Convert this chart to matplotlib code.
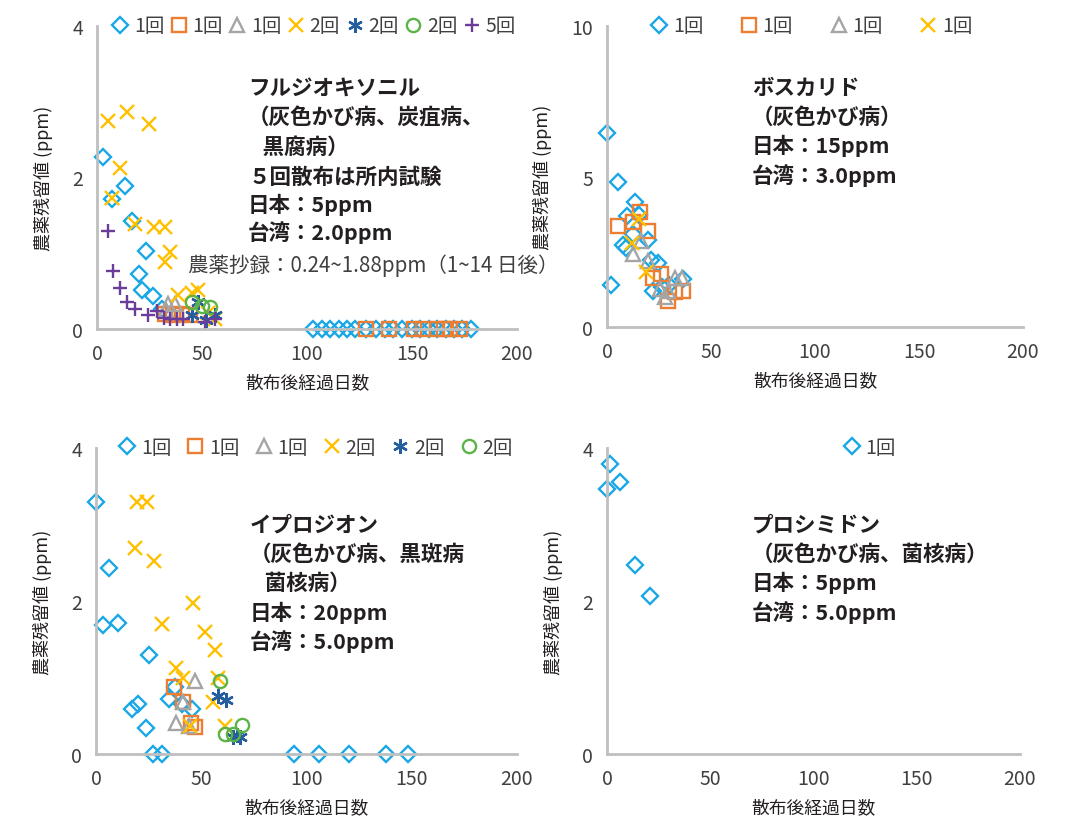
import matplotlib
matplotlib.use("Agg")
from matplotlib import pyplot as plt

plt.rcParams['font.family'] = ['Noto Sans CJK JP', 'DejaVu Sans']

# フルジオキソニル
flu_d1_x = [2.7, 7, 13.3, 16.5, 20.2, 21.3, 23.3, 26.8, 30.8,
            103, 107, 111, 115, 119, 123, 128, 133, 137, 141, 145,
            150, 154, 158, 162, 166, 170, 174, 178]
flu_d1_y = [2.27, 1.72, 1.89, 1.42, 0.73, 0.51, 1.03, 0.44, 0.26,
            0, 0, 0, 0, 0, 0, 0, 0, 0, 0, 0, 0, 0, 0, 0, 0, 0, 0, 0]
flu_d2_x = [32.4, 36.3, 40.3, 44.3, 128, 139, 151, 155, 162, 165, 168, 173]
flu_d2_y = [0.20, 0.18, 0.20, 0.18, 0, 0, 0, 0, 0, 0, 0, 0]
flu_d3_x = [33, 34, 37.1]
flu_d3_y = [0.25, 0.33, 0.33]
flu_d4_x = [5.4, 14.4, 24.6, 11, 7, 18, 27.3, 32.4, 34.8, 32.4, 38.7, 45, 48.2, 53, 56]
flu_d4_y = [2.74, 2.87, 2.71, 2.12, 1.73, 1.38, 1.35, 1.35, 1.02, 0.88, 0.45, 0.48, 0.51, 0.21, 0.13]
flu_d5_x = [48.2, 45, 52, 56]
flu_d5_y = [0.35, 0.18, 0.12, 0.18]
flu_d6_x = [45, 49.9, 53.8]
flu_d6_y = [0.35, 0.30, 0.29]
flu_d7_x = [5.4, 7.5, 11, 14.1, 18, 24.4, 28.4, 32, 34.8, 38, 41.1, 51.4, 56.2]
flu_d7_y = [1.30, 0.77, 0.54, 0.36, 0.26, 0.18, 0.24, 0.15, 0.13, 0.13, 0.13, 0.09, 0.13]

# ボスカリド
bos_d1_x = [0, 5.1, 1.8, 13.5, 9.5, 15.5, 12.4, 7.5, 9.1, 19.9, 21, 24.7, 22.3, 26.3, 30, 36.7]
bos_d1_y = [6.43, 4.81, 1.41, 4.16, 3.68, 3.72, 3.09, 2.72, 2.61, 2.9, 2.23, 2.13, 1.21, 1.32, 1.4, 1.59]
bos_d2_x = [15.9, 5.4, 12.4, 19.9, 22.3, 25.8, 29.2, 32.7, 36.4]
bos_d2_y = [3.83, 3.35, 3.48, 3.2, 1.62, 1.76, 0.87, 1.15, 1.21]
bos_d3_x = [16.2, 12.7, 19.6, 25.5, 28, 29.5, 32.7, 35.9]
bos_d3_y = [2.87, 2.43, 2.2, 1.26, 1.0, 1.21, 1.62, 1.62]
bos_d4_x = [15.5, 11.9, 18.8]
bos_d4_y = [3.59, 2.79, 1.82]

# イプロジオン
ipr_d1_x = [0, 6.3, 3.5, 10.3, 25.2, 17, 20, 23.8, 27.2, 31.2, 34.8, 37.5, 41, 45.5,
            94, 106, 120, 138, 148]
ipr_d1_y = [3.29, 2.43, 1.69, 1.71, 1.29, 0.59, 0.65, 0.34, 0, 0, 0.72, 0.88, 0.65, 0.59,
            0, 0, 0, 0, 0]
ipr_d2_x = [37.2, 41.2, 45, 47]
ipr_d2_y = [0.88, 0.68, 0.41, 0.35]
ipr_d3_x = [47, 41.2, 38, 44]
ipr_d3_y = [0.95, 0.68, 0.41, 0.37]
ipr_d4_x = [19.6, 24.1, 18.5, 27.6, 46.2, 31.2, 51.8, 56.5, 38, 41.5, 55.4, 58.1, 44.7, 61.3]
ipr_d4_y = [3.30, 3.30, 2.69, 2.52, 1.98, 1.70, 1.60, 1.36, 1.13, 1.0, 0.68, 0.99, 0.37, 0.37]
ipr_d5_x = [58.1, 61.8, 65.2, 66.8, 68.4]
ipr_d5_y = [0.76, 0.70, 0.22, 0.25, 0.22]
ipr_d6_x = [58.9, 69.2, 61.3, 65.2]
ipr_d6_y = [0.96, 0.38, 0.26, 0.26]

# プロシミドン
pro_d1_x = [1.5, 6.3, 0, 13.6, 20.8]
pro_d1_y = [3.79, 3.56, 3.46, 2.47, 2.06]

STYLES = {
    'd1': dict(marker='D', ms=8.5, mfc='none', mec='#1aa7e6', mew=1.7),
    'd2': dict(marker='s', ms=9.5, mfc='none', mec='#ed7d31', mew=1.7),
    'd3': dict(marker='^', ms=9.5, mfc='none', mec='#a5a5a5', mew=1.7),
    'd4': dict(marker='x', ms=9.5, mfc='none', mec='#ffc000', mew=1.7),
    'd5': dict(marker=(6, 2, 0), ms=10.5, mfc='none', mec='#255e9e', mew=1.7),
    'd6': dict(marker='o', ms=9.5, mfc='none', mec='#5cb347', mew=1.7),
    'd7': dict(marker='+', ms=10.5, mfc='none', mec='#6a3d9a', mew=1.7),
}

W, H = 1087, 820
fig = plt.figure(figsize=(W / 100, H / 100), dpi=100)
TXT = '#231f20'
TICK = '#404040'


def px_axes(x0, y0, x1, y1):
    return fig.add_axes([x0 / W, 1 - y1 / H, (x1 - x0) / W, (y1 - y0) / H])


def style_axes(ax, ymax, yticks):
    ax.set_xlim(0, 200)
    ax.set_ylim(0, ymax)
    ax.set_xticks([0, 50, 100, 150, 200])
    ax.set_yticks(yticks)
    for s in ['top', 'right']:
        ax.spines[s].set_visible(False)
    for s in ['left', 'bottom']:
        ax.spines[s].set_color('#bfbfbf')
        ax.spines[s].set_linewidth(2)
    ax.tick_params(length=0, labelsize=14, labelcolor=TICK, pad=10)
    ax.set_xlabel('散布後経過日数', fontsize=12.8, color=TXT, labelpad=7)
    ax.set_ylabel('農薬残留値 (ppm)', fontsize=13, color=TXT, labelpad=14)


def draw(ax, series, labels, legend_xy, colsp):
    handles = []
    for (key, xs, ys), lab in zip(series, labels):
        h, = ax.plot(xs, ys, linestyle='none', clip_on=False, label=lab, **STYLES[key])
        handles.append(h)
    fig.legend(handles=handles, loc='center',
               bbox_to_anchor=(legend_xy[0] / W, 1 - legend_xy[1] / H),
               ncol=len(handles), frameon=False, fontsize=14,
               handlelength=0.8, handletextpad=0.3, columnspacing=colsp,
               labelcolor=TICK, borderaxespad=0)


def note(x, y, s, bold=True, size=15.5, color=TXT):
    fig.text(x / W, 1 - y / H, s, fontsize=size, color=color,
             fontweight='bold' if bold else 'normal', va='center', ha='left')


ax1 = px_axes(97, 27, 517, 330)
style_axes(ax1, 4, [0, 2, 4])
draw(ax1, [('d1', flu_d1_x, flu_d1_y), ('d2', flu_d2_x, flu_d2_y),
           ('d3', flu_d3_x, flu_d3_y), ('d4', flu_d4_x, flu_d4_y),
           ('d5', flu_d5_x, flu_d5_y), ('d6', flu_d6_x, flu_d6_y),
           ('d7', flu_d7_x, flu_d7_y)],
     ['1回', '1回', '1回', '2回', '2回', '2回', '5回'], (314, 27), 0.35)

ax2 = px_axes(607, 27, 1023, 328)
style_axes(ax2, 10, [0, 5, 10])
draw(ax2, [('d1', bos_d1_x, bos_d1_y), ('d2', bos_d2_x, bos_d2_y),
           ('d3', bos_d3_x, bos_d3_y), ('d4', bos_d4_x, bos_d4_y)],
     ['1回', '1回', '1回', '1回'], (812, 27), 1.95)

ax3 = px_axes(96, 449, 517, 755)
style_axes(ax3, 4, [0, 2, 4])
draw(ax3, [('d1', ipr_d1_x, ipr_d1_y), ('d2', ipr_d2_x, ipr_d2_y),
           ('d3', ipr_d3_x, ipr_d3_y), ('d4', ipr_d4_x, ipr_d4_y),
           ('d5', ipr_d5_x, ipr_d5_y), ('d6', ipr_d6_x, ipr_d6_y)],
     ['1回', '1回', '1回', '2回', '2回', '2回'], (316, 448), 0.85)

ax4 = px_axes(607, 449, 1020, 755)
style_axes(ax4, 4, [0, 2, 4])
draw(ax4, [('d1', pro_d1_x, pro_d1_y)], ['1回'], (870, 448), 0.5)

# 注記
for y, s in [(88, 'フルジオキソニル'), (118, '（灰色かび病、炭疽病、'),
             (147, '   黒腐病）'), (177, '５回散布は所内試験'),
             (205, '日本：5ppm'), (233, '台湾：2.0ppm')]:
    note(248, y, s)
note(188, 266, '農薬抄録：0.24~1.88ppm（1~14 日後）', bold=False, size=14.8, color='#404040')

for y, s in [(88, 'ボスカリド'), (117, '（灰色かび病）'),
             (146, '日本：15ppm'), (176, '台湾：3.0ppm')]:
    note(752, y, s)

for y, s in [(525, 'イプロジオン'), (554, '（灰色かび病、黒斑病'),
             (583, '   菌核病）'), (613, '日本：20ppm'), (642, '台湾：5.0ppm')]:
    note(250, y, s)

for y, s in [(525, 'プロシミドン'), (554, '（灰色かび病、菌核病）'),
             (583, '日本：5ppm'), (613, '台湾：5.0ppm')]:
    note(752, y, s)

fig.savefig('out.png', dpi=100)
